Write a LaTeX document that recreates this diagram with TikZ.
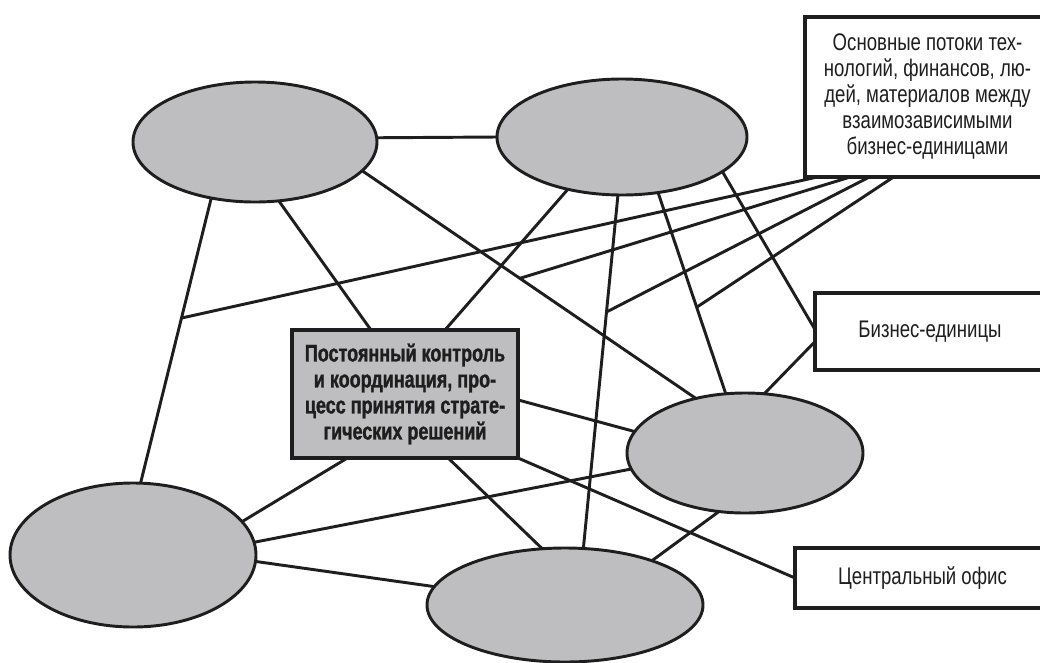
\documentclass[tikz,border=0pt]{standalone}
\usepackage{fontspec}
\setmainfont{Liberation Sans}
\newfontfamily\cond[FakeStretch=0.775]{Liberation Sans}
\newfontfamily\condbold[FakeStretch=0.75,FakeBold=1.2]{Liberation Sans}
\usetikzlibrary{shapes.geometric,calc,backgrounds}
\definecolor{ink}{RGB}{30,30,30}
\definecolor{unitgray}{RGB}{190,190,192}
\begin{document}
\begin{tikzpicture}[x={(0.75pt,0)},y={(0,-0.75pt)},
  unit/.style={ellipse,draw=ink,fill=unitgray,line width=2.2pt,inner sep=0pt,outer sep=0pt},
  link/.style={draw=ink,line width=2.2pt},
  labelbox/.style={rectangle,draw=ink,fill=white,line width=2.4pt,align=center,inner sep=0pt,outer sep=0pt,
    text=ink,font=\cond\fontsize{18}{19.5}\selectfont},
  ctrlbox/.style={rectangle,draw=ink,fill=unitgray,line width=3pt,align=center,inner sep=0pt,outer sep=0pt,
    text=ink,font=\condbold\bfseries\fontsize{18}{19.5}\selectfont}]
\useasboundingbox (0,0) rectangle (1040,662);
\clip (0,0) rectangle (1040,662);
% business units
\node[unit,minimum width=183pt,minimum height=90pt] (E1) at (255,142) {};
\node[unit,minimum width=187.5pt,minimum height=87pt] (E2) at (622,137) {};
\node[unit,minimum width=177pt,minimum height=90pt] (E3) at (745,453) {};
\node[unit,minimum width=184.5pt,minimum height=108pt] (E4) at (133,555) {};
\node[unit,minimum width=207pt,minimum height=85.5pt] (E5) at (565,605) {};
% central control box
\node[ctrlbox,minimum width=169.5pt,minimum height=96pt] (C) at (405,394)
  {Постоянный контроль\\и координация, про-\\цесс принятия страте-\\гических решений};
% label boxes
\node[labelbox,minimum width=183.75pt,minimum height=120pt] (T) at (927.5,97)
  {Основные потоки тех-\\нологий, финансов, лю-\\дей, материалов между\\взаимозависимыми\\бизнес-единицами};
\node[labelbox,minimum width=172.5pt,minimum height=57.75pt] (B) at (930,331.5) {Бизнес-единицы};
\node[labelbox,minimum width=191.25pt,minimum height=45pt] (O) at (922.5,578) {Центральный офис};
% connectors
\begin{scope}[on background layer]
\draw[link] (E1.2.4) -- (E2.180);
\draw[link] (E1.-128.8) -- (E4.84.4);
\draw[link] (E1.-68.4) -- (C.118.7);
\draw[link] (E1.-15.3) -- (E3.132.9);
\draw[link] (E2.-136.1) -- (C.58);
\draw[link] (E2.-94) -- (E5.72.5);
\draw[link] (E2.-57.3) -- (E3.108.4);
\draw[link] (E2.-19.3) -- (B.179.3);
\draw[link] (B.-175.8) -- (E3.72.8);
\draw[link] (C.-3) -- (E3.169.4);
\draw[link] (C.south east) -- (O.west);
\draw[link] (E4.6) -- (E3.-172.7);
\draw[link] (E4.-3.2) -- (E5.172.4);
\draw[link] (C.-132.2) -- (E4.17.2);
\draw[link] (C.-56.7) -- (E5.112);
\draw[link] (E3.-114.2) -- (E5.27.1);
% flows from the top label box, ending on other connectors
\coordinate (ja) at ($(E1.-128.8)!0.421!(E4.84.4)$);
\coordinate (jb) at ($(E1.-15.3)!0.4726!(E3.132.9)$);
\coordinate (jc) at ($(E2.-94)!0.331!(E5.72.5)$);
\coordinate (jd) at ($(E2.-57.3)!0.57!(E3.108.4)$);
\draw[link] (T.-144.1) -- (ja);
\draw[link] (T.-134.1) -- (jb);
\draw[link] (T.-126.6) -- (jc);
\draw[link] (T.-113.3) -- (jd);
\end{scope}
\end{tikzpicture}
\end{document}
